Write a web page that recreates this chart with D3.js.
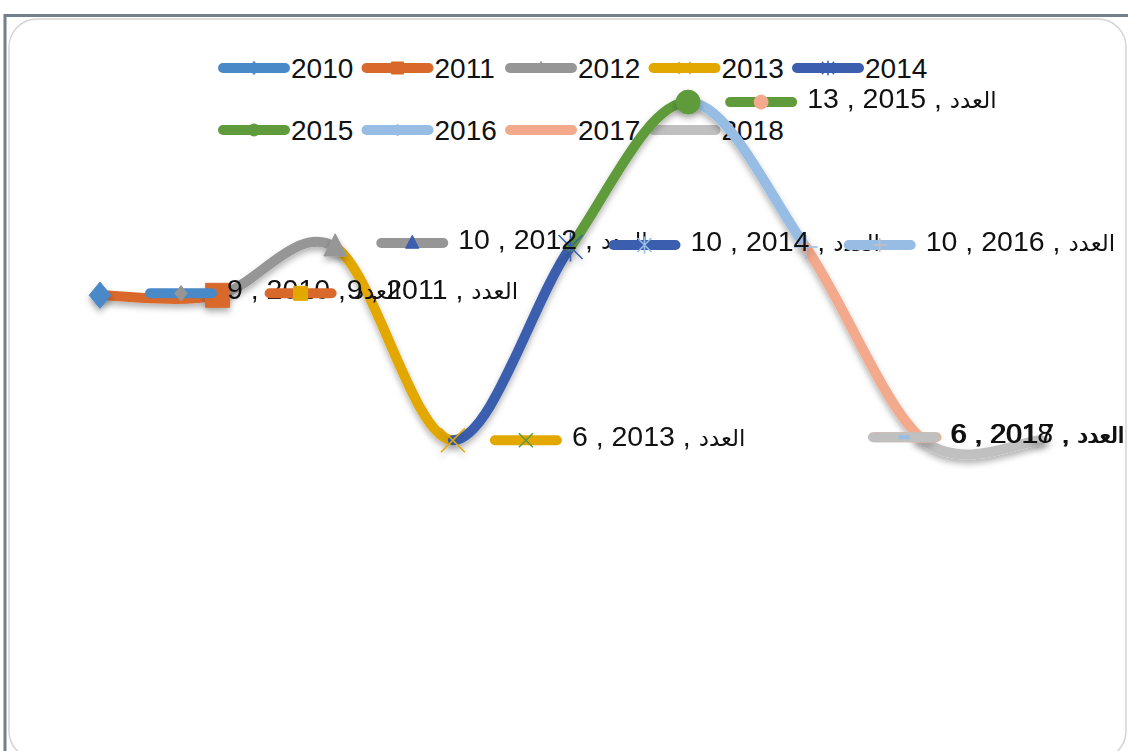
<!DOCTYPE html>
<html><head><meta charset="utf-8">
<script src="https://cdn.jsdelivr.net/npm/d3@7"></script>
<style>html,body{margin:0;padding:0;background:#fff;overflow:hidden}</style>
</head><body>
<svg id="c" width="1128" height="751"></svg>
<script>
// ---- data ----
const years = ["2010","2011","2012","2013","2014","2015","2016","2017","2018"];
const counts = [9, 9, 10, 6, 10, 13, 10, 6, 6];
const labelWord = "العدد";

// ---- styles / layout config ----
const colors = ["#4a89c8","#d9692b","#969696","#e3a800","#3b5fae","#5f9b3b","#98bde4","#f3a98b","#c0c0c0"];
const shapes = ["diamond","square","triangle","x","star","circle","plus","dash","dash"];
const labelMarkerColorIdx = [2,3,4,5,6,7,8,6,6];
const labelDx = [45,47,41,37,38,37,38,-54,-173];
const labelDy = [-2,-2,-4,0,-2,0,-2,-3,-3];

const svg = d3.select("#c");
const defs = svg.append("defs");
const f = defs.append("filter").attr("id","sh").attr("x","-20%").attr("y","-20%").attr("width","140%").attr("height","160%");
f.append("feDropShadow").attr("dx",0).attr("dy",4).attr("stdDeviation",3).attr("flood-color","#000").attr("flood-opacity",0.3);

// frame
svg.append("rect").attr("x",9).attr("y",19).attr("width",1117).attr("height",740).attr("rx",28)
  .attr("fill","#fff").attr("stroke","#d4d4d4").attr("stroke-width",1.5);
svg.append("line").attr("x1",4).attr("x2",1128).attr("y1",15.5).attr("y2",15.5).attr("stroke","#737f8a").attr("stroke-width",3);
svg.append("line").attr("x1",5).attr("x2",5).attr("y1",14).attr("y2",751).attr("stroke","#737f8a").attr("stroke-width",3);

// scales
const x = d3.scalePoint().domain(years).range([100, 1041]);
const y = d3.scaleLinear().domain([0, 14]).range([730, 53.8]);

function markerPath(shape, s) {
  const p = d3.path();
  switch (shape) {
    case "diamond": p.moveTo(0,-s*1.1); p.lineTo(s*0.9,0); p.lineTo(0,s*1.1); p.lineTo(-s*0.9,0); p.closePath(); break;
    case "square": p.rect(-s,-s,2*s,2*s); break;
    case "triangle": p.moveTo(0,-s*1.1); p.lineTo(s*0.95,s*0.75); p.lineTo(-s*0.95,s*0.75); p.closePath(); break;
    case "circle": p.arc(0,0,s,0,2*Math.PI); break;
    case "x": p.moveTo(-s,-s); p.lineTo(s,s); p.moveTo(s,-s); p.lineTo(-s,s); break;
    case "star": p.moveTo(-s,-s); p.lineTo(s,s); p.moveTo(s,-s); p.lineTo(-s,s); p.moveTo(0,-s*1.2); p.lineTo(0,s*1.2); break;
    case "plus": p.moveTo(-s,0); p.lineTo(s,0); p.moveTo(0,-s); p.lineTo(0,s); break;
    case "dash": p.moveTo(-s*0.8,0); p.lineTo(s*0.8,0); break;
  }
  return p.toString();
}
const filled = s => ["diamond","square","triangle","circle"].includes(s);
function drawMarker(g, shape, color, s, cx, cy) {
  g.append("path").attr("d", markerPath(shape, s)).attr("transform",`translate(${cx},${cy})`)
    .attr("fill", filled(shape) ? color : "none")
    .attr("stroke", color).attr("stroke-width", filled(shape) ? 1 : (shape==="dash"?4:1.6));
}
function drawKey(g, x0, yy, lineColor, shape, markColor, ms) {
  g.append("line").attr("x1",x0+5).attr("x2",x0+67).attr("y1",yy).attr("y2",yy)
    .attr("stroke",lineColor).attr("stroke-width",10).attr("stroke-linecap","round");
  drawMarker(g, shape, markColor, ms, x0+36, yy);
}

// legend
const leg = svg.append("g");
years.forEach((yr,i) => {
  const row = i < 5 ? 0 : 1, col = i < 5 ? i : i - 5;
  const lx = 218 + col*143.5, ly = row === 0 ? 68 : 130;
  drawKey(leg, lx, ly, colors[i], shapes[i], colors[i], 6);
  leg.append("text").attr("x", lx+73).attr("y", ly).attr("dy","0.36em")
    .attr("font-family","Liberation Sans, Arial, sans-serif").attr("font-size",28).attr("fill","#111").text(yr);
});

// smoothed segments, each coloured by its end point
const pts = years.map((yr,i) => [x(yr), y(counts[i])]);
const lines = svg.append("g").attr("filter","url(#sh)");
for (let i = 1; i < pts.length; i++) {
  const p0 = pts[Math.max(i-2,0)], p1 = pts[i-1], p2 = pts[i], p3 = pts[Math.min(i+1,pts.length-1)];
  const c1 = [p1[0]+(p2[0]-p0[0])/6, p1[1]+(p2[1]-p0[1])/6];
  const c2 = [p2[0]-(p3[0]-p1[0])/6, p2[1]-(p3[1]-p1[1])/6];
  const p = d3.path(); p.moveTo(p1[0],p1[1]); p.bezierCurveTo(c1[0],c1[1],c2[0],c2[1],p2[0],p2[1]);
  lines.append("path").attr("d",p.toString()).attr("fill","none").attr("stroke",colors[i])
    .attr("stroke-width",10).attr("stroke-linecap","round");
}
const marks = svg.append("g").attr("filter","url(#sh)");
years.forEach((yr,i) => drawMarker(marks, shapes[i], colors[i], 12, x(yr), y(counts[i])));

// data labels with keys
const lab = svg.append("g");
years.forEach((yr,i) => {
  const kx = x(yr) + labelDx[i], ky = y(counts[i]) + labelDy[i];
  drawKey(lab, kx, ky, colors[i], shapes[i], colors[labelMarkerColorIdx[i]], 7);
  const t = lab.append("text").attr("x", kx+82).attr("y", ky).attr("dy","0.36em").attr("fill","#111");
  t.append("tspan").attr("font-family","Liberation Sans, Arial, sans-serif").attr("font-size",28.5)
    .text(`${counts[i]} , ${yr} , `);
  t.append("tspan").attr("font-family","DejaVu Sans, sans-serif").attr("font-size",23).text(labelWord);
});
</script>
</body></html>
